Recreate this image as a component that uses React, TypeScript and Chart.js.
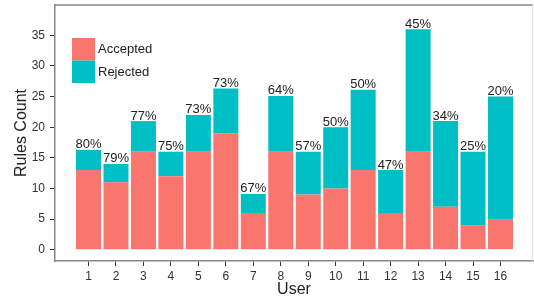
import React, { useEffect, useRef } from "react";
import { Chart, registerables } from "chart.js";

Chart.register(...registerables);

const users = [1, 2, 3, 4, 5, 6, 7, 8, 9, 10, 11, 12, 13, 14, 15, 16];
const accepted = [13, 11, 16, 12, 16, 19, 6, 16, 9, 10, 13, 6, 16, 7, 4, 5];
const rejected = [3.3, 3, 5, 4, 6, 7.3, 3.1, 9.1, 7, 10, 13.1, 7, 20, 14, 12, 20];
const pctLabels = ["80%", "79%", "77%", "75%", "73%", "73%", "67%", "64%", "57%", "50%", "50%", "47%", "45%", "34%", "25%", "20%"];
const yTicks = [0, 5, 10, 15, 20, 25, 30, 35];
const seriesNames = ["Accepted", "Rejected"];
const colors = ["#F8766D", "#00BFC4"];

const FONT = '"Liberation Sans", Arial, Helvetica, sans-serif';

export default function App() {
  const ref = useRef<HTMLCanvasElement | null>(null);

  useEffect(() => {
    if (!ref.current) return;

    const framePlugin = {
      id: "frame",
      afterDraw(chart: any) {
        const { ctx, chartArea } = chart;
        ctx.save();
        ctx.strokeStyle = "#888";
        ctx.lineWidth = 1.5;
        ctx.beginPath();
        ctx.moveTo(chartArea.left, chartArea.top);
        ctx.lineTo(chartArea.right, chartArea.top);
        ctx.stroke();
        ctx.strokeStyle = "#ddd";
        ctx.lineWidth = 1;
        ctx.beginPath();
        ctx.moveTo(chartArea.right - 0.5, chartArea.top);
        ctx.lineTo(chartArea.right - 0.5, chartArea.bottom);
        ctx.stroke();
        ctx.restore();
      },
    };

    const labelPlugin = {
      id: "pctLabels",
      afterDatasetsDraw(chart: any) {
        const { ctx } = chart;
        const meta = chart.getDatasetMeta(1);
        ctx.save();
        ctx.font = `13px ${FONT}`;
        ctx.fillStyle = "#222";
        ctx.textAlign = "center";
        ctx.textBaseline = "alphabetic";
        meta.data.forEach((bar: any, i: number) => {
          ctx.fillText(pctLabels[i], bar.x, bar.y - 1.5);
        });
        ctx.restore();
      },
    };

    const legendPlugin = {
      id: "innerLegend",
      afterDatasetsDraw(chart: any) {
        const { ctx, chartArea } = chart;
        const x0 = chartArea.left + 17;
        const y0 = chartArea.top + 33;
        const w = 23;
        const h = 22.5;
        ctx.save();
        ctx.font = `13px ${FONT}`;
        ctx.textBaseline = "middle";
        ctx.textAlign = "left";
        chart.data.datasets.forEach((ds: any, i: number) => {
          ctx.fillStyle = ds.backgroundColor;
          ctx.fillRect(x0, y0 + i * h, w, h);
          ctx.fillStyle = "#222";
          ctx.fillText(ds.label, x0 + w + 3, y0 + i * h + h / 2 + 0.5);
        });
        ctx.restore();
      },
    };

    const chart = new Chart(ref.current, {
      type: "bar",
      data: {
        datasets: [
          {
            label: seriesNames[0],
            data: users.map((u, i) => ({ x: u, y: accepted[i] })),
            backgroundColor: colors[0],
            borderWidth: 0,
          },
          {
            label: seriesNames[1],
            data: users.map((u, i) => ({ x: u, y: rejected[i] })),
            backgroundColor: colors[1],
            borderWidth: 0,
          },
        ],
      },
      options: {
        animation: false,
        responsive: false,
        maintainAspectRatio: false,
        layout: { padding: { top: 5, right: 1, left: 0, bottom: 0 } },
        datasets: { bar: { barPercentage: 0.91, categoryPercentage: 1 } },
        plugins: {
          legend: { display: false },
          tooltip: { enabled: false },
        },
        scales: {
          x: {
            type: "linear",
            stacked: true,
            offset: false,
            min: -0.22,
            max: 17.183,
            afterBuildTicks(scale: any) {
              scale.ticks = users.map((u) => ({ value: u }));
            },
            afterFit(scale: any) {
              scale.height = 39;
              scale.paddingLeft = 0;
              scale.paddingRight = 0;
            },
            ticks: {
              autoSkip: false,
              maxRotation: 0,
              padding: 3,
              color: "#333",
              font: { family: FONT, size: 12 },
              callback: (v: any) => String(v),
            },
            grid: {
              offset: false,
              drawOnChartArea: false,
              drawTicks: true,
              tickLength: 5,
              color: "#333",
            },
            border: { display: true, color: "#888", width: 1.5 },
            title: {
              display: true,
              text: "User",
              color: "#222",
              font: { family: FONT, size: 16 },
              padding: { top: 0, bottom: 1 },
            },
          },
          y: {
            type: "linear",
            stacked: true,
            min: -1.845,
            max: 39.95,
            afterBuildTicks(scale: any) {
              scale.ticks = yTicks.map((v) => ({ value: v }));
            },
            afterFit(scale: any) {
              scale.width = 55;
              scale.paddingTop = 0;
              scale.paddingBottom = 0;
            },
            ticks: {
              padding: 5,
              color: "#333",
              font: { family: FONT, size: 12 },
            },
            grid: {
              drawOnChartArea: false,
              drawTicks: true,
              tickLength: 5,
              color: "#333",
            },
            border: { display: true, color: "#888", width: 1.5 },
            title: {
              display: true,
              text: "Rules Count",
              color: "#222",
              font: { family: FONT, size: 16 },
              padding: { top: 12, bottom: 0 },
            },
          },
        },
      },
      plugins: [framePlugin, labelPlugin, legendPlugin],
    } as any);

    return () => chart.destroy();
  }, []);

  return (
    <div style={{ position: "absolute", left: 0, top: 0, width: 534, height: 300, background: "#fff" }}>
      <canvas ref={ref} width={534} height={300} style={{ width: 534, height: 300, display: "block" }} />
    </div>
  );
}
